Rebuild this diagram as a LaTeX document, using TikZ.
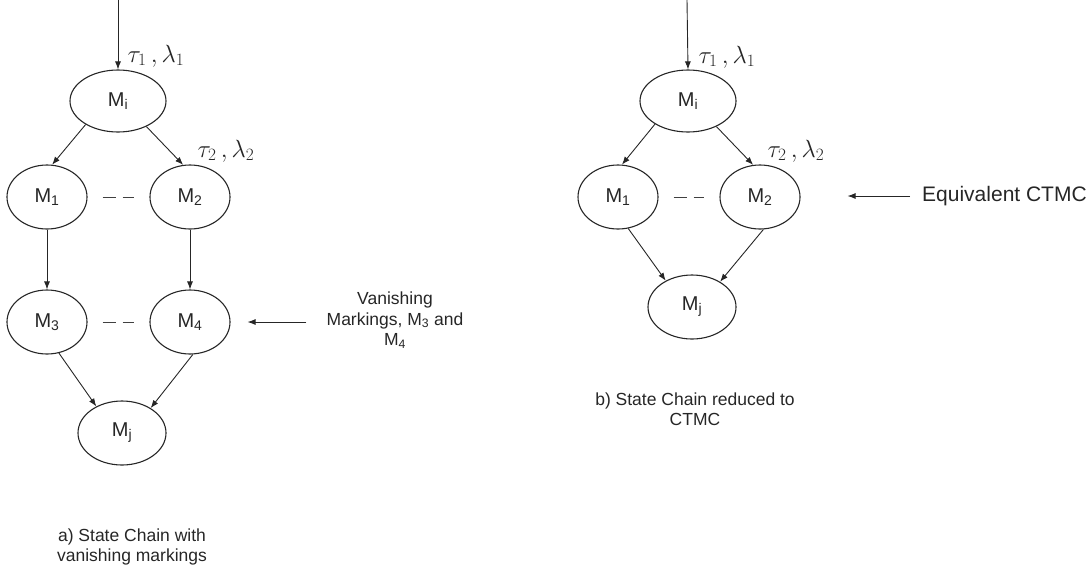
\documentclass[tikz,border=0pt]{standalone}
\usepackage{fontspec}
\setmainfont{Liberation Sans}
\usetikzlibrary{arrows.meta,shapes.geometric}
\newcommand\Mk[1]{M\textsubscript{#1}}

\begin{document}
\begin{tikzpicture}[x=1pt,y=-1pt,
  st/.style={draw=black!85, line width=1.1pt, ellipse, inner sep=0pt,
    minimum width=80pt, minimum height=64pt, text=black!85,
    font=\fontsize{20}{23}\selectfont},
  arr/.style={draw=black!85, line width=0.9pt, -{Latex[length=8pt,width=6pt]}},
  gapdash/.style={draw=black!75, line width=1pt, dash pattern=on 13pt off 7pt,
    shorten <=15pt, shorten >=15pt},
  rate/.style={font=\fontsize{24}{26}\selectfont, inner sep=0pt, text=black!85},
  note/.style={font=\fontsize{17.5}{20.5}\selectfont, align=center,
    inner sep=0pt, text=black!85}]
\useasboundingbox (0,0) rectangle (1091,576);

% ---------- a) chain with vanishing markings ----------
\coordinate (inA) at (118,0);
\node[st, minimum width=96pt, minimum height=62pt] (mia) at (118,101) {\Mk{i}};
\node[st] (m1a) at (47,197) {\Mk{1}};
\node[st] (m2a) at (190,197) {\Mk{2}};
\node[st] (m3a) at (47,322) {\Mk{3}};
\node[st] (m4a) at (190,322) {\Mk{4}};
\node[st, minimum width=88pt] (mja) at (122,433) {\Mk{j}};

\node[rate] (r1a) at (156,56) {$\tau_1\,, \lambda_1$};
\node[rate] (r2a) at (226,151) {$\tau_2\,, \lambda_2$};

\draw[arr] (inA) -- (mia.north);
\draw[arr] (mia.216) -- (m1a.81);
\draw[arr] (mia.318) -- (m2a.102);
\draw[arr] (m1a) -- (m3a);
\draw[arr] (m2a) -- (m4a);
\draw[arr] (m3a.291) -- (mja.134);
\draw[arr] (m4a.275) -- (mja.41);
\draw[gapdash] (m1a) -- (m2a);
\draw[gapdash] (m3a) -- (m4a);

\node[note] (vanish) at (395,320)
  {Vanishing\\Markings, \Mk{3} and\\\Mk{4}};
\draw[arr, shorten <=20pt, shorten >=17pt] (vanish.west |- m4a.east) -- (m4a.east);

\node[note] (capa) at (132,547) {a) State Chain with\\vanishing markings};

% ---------- b) chain reduced to a CTMC ----------
\coordinate (inB) at (687,0);
\node[st, minimum width=96pt, minimum height=62pt] (mib) at (688,101) {\Mk{i}};
\node[st] (m1b) at (618,197) {\Mk{1}};
\node[st] (m2b) at (760,197) {\Mk{2}};
\node[st, minimum width=88pt] (mjb) at (692,307) {\Mk{j}};

\node[rate] (r1b) at (727,57) {$\tau_1\,, \lambda_1$};
\node[rate] (r2b) at (796,151) {$\tau_2\,, \lambda_2$};

\draw[arr] (inB) -- (mib.north);
\draw[arr] (mib.215) -- (m1b.83);
\draw[arr] (mib.318) -- (m2b.102);
\draw[arr] (m1b.288) -- (mjb.135);
\draw[arr] (m2b.276) -- (mjb.42);
\draw[gapdash] (m1b) -- (m2b);

\node[note, font=\fontsize{21}{24}\selectfont, anchor=west] (ctmc) at (922,196)
  {Equivalent CTMC};
\draw[arr, shorten <=12pt, shorten >=47pt] (ctmc.west) -- (m2b.east |- ctmc.west);

\node[note] (capb) at (695,409) {b) State Chain reduced to\\CTMC};
\end{tikzpicture}
\end{document}
